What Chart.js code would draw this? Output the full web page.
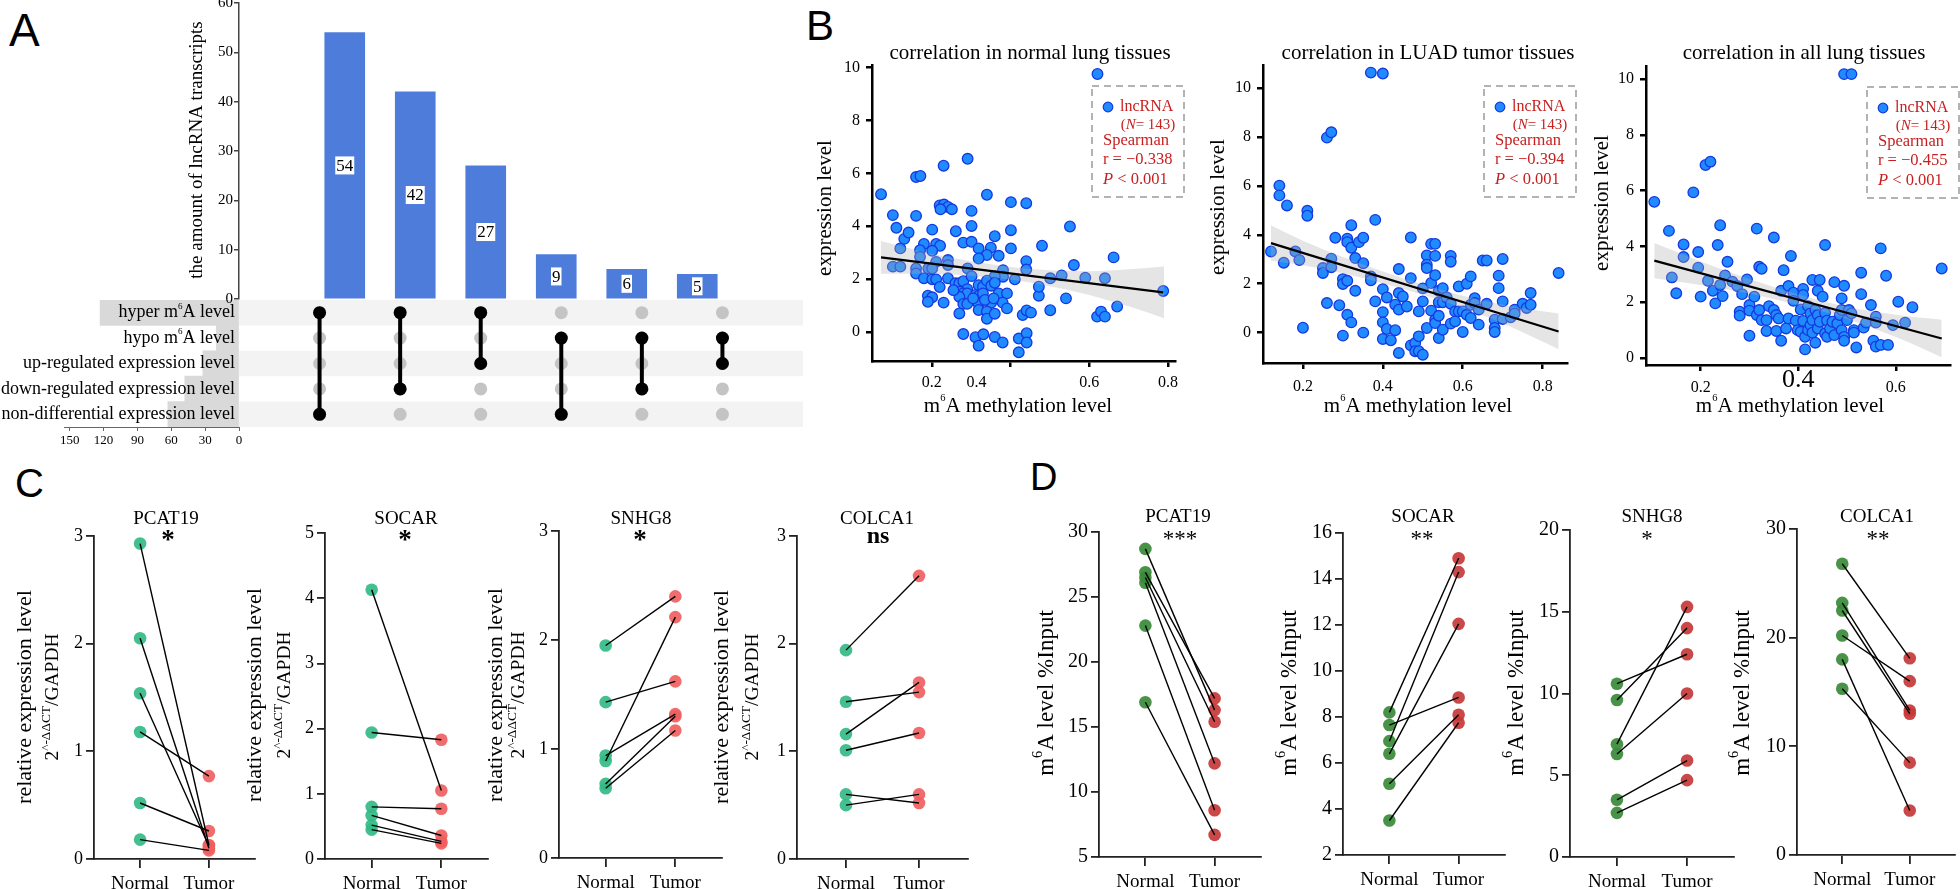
<!DOCTYPE html>
<html><head><meta charset="utf-8"><title>m6A lncRNA figure</title>
<script src="https://cdn.jsdelivr.net/npm/chart.js@4.4.1/dist/chart.umd.min.js"></script>
<style>
html,body{margin:0;padding:0;background:#fff;}
body{width:1960px;height:889px;overflow:hidden;position:relative;}
canvas{position:absolute;display:block;}
.pl{position:absolute;font-family:'Liberation Sans',Arial,sans-serif;line-height:1;color:#000;}
</style></head><body>
<div class="pl" style="left:9px;top:7px;font-size:46px">A</div>
<div class="pl" style="left:806px;top:5px;font-size:42px">B</div>
<div class="pl" style="left:15px;top:463px;font-size:40px">C</div>
<div class="pl" style="left:1030px;top:458px;font-size:38px">D</div>
<script>
// ================= DATA =================
// Panel A (UpSet)
const setNames = ['hyper m⁶A level','hypo m⁶A level','up-regulated expression level','down-regulated expression level','non-differential expression level'];
const setSizes = [123, 20, 32, 48, 63];
const setSizeTicks = [0, 30, 60, 90, 120, 150];
const intersectionSizes = [54, 42, 27, 9, 6, 5];
const intersectionSets = [[0,4],[0,3],[0,2],[1,4],[1,3],[1,2]];
const barTicks = [0, 10, 20, 30, 40, 50, 60];

// Panel B (scatter)
const normalX = [0.071,0.101,0.110,0.120,0.130,0.141,0.101,0.120,0.160,0.171,
0.160,0.230,0.291,0.340,0.220,0.231,0.241,0.251,0.222,0.301,
0.301,0.201,0.261,0.401,0.440,0.551,0.401,0.360,0.180,0.211,
0.221,0.201,0.280,0.301,0.319,0.350,0.340,0.370,0.401,0.480,
0.170,0.170,0.211,0.241,0.241,0.291,0.319,0.440,0.440,0.561,
0.662,0.160,0.160,0.191,0.201,0.180,0.201,0.211,0.241,0.220,
0.381,0.381,0.360,0.411,0.501,0.530,0.590,0.640,0.260,0.270,
0.280,0.301,0.319,0.330,0.340,0.351,0.360,0.290,0.270,0.280,
0.290,0.311,0.319,0.330,0.370,0.391,0.270,0.190,0.201,0.190,
0.230,0.280,0.290,0.319,0.351,0.380,0.472,0.472,0.541,0.319,
0.340,0.340,0.360,0.391,0.270,0.431,0.441,0.452,0.501,0.620,
0.630,0.640,0.671,0.280,0.311,0.331,0.319,0.360,0.380,0.421,
0.441,0.441,0.421,0.621,0.788,0.335,0.357,0.305,0.255];
const normalY = [5.21,4.42,3.94,3.16,3.52,3.76,2.47,2.47,5.86,5.90,
4.39,6.29,6.55,5.19,4.79,4.82,4.73,4.64,4.64,4.58,
4.01,3.87,3.81,4.91,4.87,3.99,3.85,3.62,3.33,3.33,
3.26,3.07,3.38,3.41,3.16,3.19,2.91,2.88,3.16,3.26,
3.09,2.84,2.65,2.72,2.53,2.40,2.78,2.68,2.36,2.53,
2.82,2.40,2.21,2.40,2.40,2.03,1.99,1.99,2.03,1.70,
2.34,2.09,2.11,1.99,2.03,2.14,2.05,2.03,1.84,1.84,
1.92,2.11,1.77,1.71,1.94,1.75,1.86,1.62,1.52,1.46,
1.46,1.40,1.36,1.46,1.46,1.46,1.33,1.37,1.31,1.14,
1.11,1.06,1.06,1.06,1.11,1.11,1.37,1.71,1.27,0.83,
0.77,0.50,0.69,0.89,0.70,0.64,0.81,0.73,0.82,0.58,
0.77,0.58,0.96,-0.08,-0.20,-0.09,-0.52,-0.19,-0.40,-0.25,
-0.05,-0.40,-0.77,9.76,1.55,1.21,1.27,1.27,1.58];
const normalBandX = [0.07,0.2,0.3,0.4,0.5,0.6,0.7,0.79];
const normalBandLo = [2.20,2.20,2.13,1.98,1.73,1.40,0.97,0.52];
const normalBandHi = [3.44,2.96,2.67,2.46,2.33,2.30,2.37,2.48];
const normalFitX = [0.071, 0.788];
const normalFitY = [2.82, 1.50];

const tumorX = [0.12,0.141,0.141,0.16,0.152,0.181,0.191,0.2,0.211,0.211,
0.26,0.271,0.37,0.40,0.25,0.25,0.26,0.271,0.271,0.281,
0.291,0.30,0.30,0.30,0.311,0.311,0.311,0.311,0.321,0.321,
0.321,0.331,0.331,0.34,0.351,0.351,0.351,0.37,0.37,0.381,
0.381,0.40,0.40,0.40,0.40,0.41,0.41,0.42,0.431,0.431,
0.44,0.44,0.44,0.44,0.45,0.46,0.47,0.47,0.47,0.481,
0.481,0.49,0.49,0.49,0.50,0.50,0.50,0.51,0.51,0.51,
0.51,0.521,0.521,0.521,0.531,0.531,0.531,0.531,0.531,0.54,
0.54,0.54,0.54,0.55,0.55,0.55,0.56,0.57,0.57,0.57,
0.57,0.581,0.581,0.59,0.59,0.60,0.60,0.61,0.61,0.62,
0.62,0.62,0.63,0.63,0.64,0.64,0.65,0.66,0.66,0.68,
0.68,0.68,0.69,0.69,0.70,0.70,0.70,0.72,0.73,0.73,
0.75,0.76,0.77,0.77,0.84];
const tumorY = [3.32,6.01,5.61,5.20,2.86,3.32,2.97,0.20,4.98,4.78,
7.97,8.19,10.63,10.59,2.64,2.44,1.21,3.02,2.67,3.88,
1.12,-0.12,2.19,1.99,3.84,3.70,2.12,0.73,4.39,3.47,
0.42,3.05,1.71,3.70,3.88,2.84,0.0,2.30,2.14,4.61,
1.28,1.78,0.84,0.42,-0.26,1.44,0.15,-0.31,1.14,0.10,
2.60,1.62,0.94,-0.83,1.48,1.07,3.89,2.23,-0.52,-0.42,
-0.76,0.87,-0.15,-0.76,1.81,1.28,-0.90,3.16,2.78,2.64,
0.19,3.63,2.03,0.90,3.63,3.14,2.35,0.53,0.39,1.71,
1.24,0.69,-0.22,1.82,1.24,0.12,1.44,3.14,2.90,1.18,
0.37,0.87,0.46,1.89,0.87,0.87,0.03,2.0,0.73,2.30,
1.14,0.60,1.41,1.21,0.94,0.33,2.95,2.95,1.18,0.53,
0.19,0.03,2.33,1.82,3.01,1.28,0.56,0.63,0.94,0.78,
1.18,1.01,1.62,1.14,2.44];
const tumorBandX = [0.12,0.2,0.3,0.4,0.5,0.6,0.7,0.84];
const tumorBandLo = [2.94,2.76,2.43,2.02,1.55,1.01,0.38,-0.68];
const tumorBandHi = [4.38,3.76,3.09,2.50,1.97,1.51,1.14,0.78];
const tumorFitX = [0.12, 0.84];
const tumorFitY = [3.66, 0.05];

const allX = [0.105,0.135,0.141,0.150,0.165,0.165,0.185,0.195,0.195,0.200,
0.210,0.220,0.215,0.225,0.230,0.235,0.240,0.240,0.245,0.250,
0.255,0.265,0.275,0.280,0.280,0.285,0.295,0.300,0.300,0.300,
0.310,0.315,0.315,0.320,0.320,0.325,0.325,0.335,0.335,0.340,
0.350,0.350,0.355,0.355,0.360,0.365,0.365,0.370,0.375,0.380,
0.380,0.385,0.390,0.390,0.395,0.399,0.405,0.405,0.410,0.410,
0.410,0.414,0.414,0.420,0.420,0.425,0.425,0.429,0.429,0.429,
0.435,0.435,0.440,0.440,0.440,0.444,0.444,0.450,0.455,0.455,
0.455,0.459,0.459,0.465,0.470,0.474,0.474,0.480,0.485,0.489,
0.489,0.489,0.494,0.494,0.494,0.494,0.509,0.500,0.504,0.509,
0.514,0.514,0.519,0.529,0.529,0.534,0.539,0.549,0.554,0.559,
0.559,0.559,0.569,0.569,0.580,0.584,0.594,0.605,0.619,0.634,
0.694];
const allY = [5.60,4.56,2.89,2.32,4.07,3.62,5.94,3.80,3.24,2.20,
6.92,7.04,2.77,2.41,1.96,4.05,4.76,2.62,2.22,2.96,
3.45,2.74,2.58,1.66,1.52,2.29,2.82,1.90,1.70,0.80,
2.20,4.64,1.54,1.72,3.27,3.20,1.36,1.36,0.97,1.86,
4.32,1.72,1.54,0.97,1.42,0.62,2.41,3.15,1.06,2.58,
1.42,3.66,2.34,2.05,1.34,1.00,1.74,0.94,2.48,2.26,
1.33,0.76,0.31,1.86,1.00,1.60,1.18,2.80,1.36,0.91,
1.72,0.55,2.41,1.54,1.06,2.80,1.30,2.20,4.05,1.62,
0.88,1.34,0.76,1.06,1.30,2.72,0.82,1.24,1.54,2.14,
1.72,1.00,2.59,0.76,0.62,10.18,10.18,1.36,1.72,1.60,
1.00,0.91,0.38,3.06,2.29,1.09,1.27,1.90,0.62,1.48,
1.27,0.41,3.93,0.47,2.95,0.47,1.18,2.02,1.27,1.82,
3.21];
const allBandX = [0.105,0.2,0.3,0.4,0.5,0.6,0.694];
const allBandLo = [2.86,2.62,2.31,1.90,1.40,0.75,0.03];
const allBandHi = [4.12,3.46,2.83,2.28,1.84,1.55,1.37];
const allFitX = [0.105, 0.694];
const allFitY = [3.49, 0.70];

const scatterTitles = ['correlation in normal lung tissues','correlation in LUAD tumor tissues','correlation in all lung tissues'];
const spearmanR = ['−0.338','−0.394','−0.455'];
const lncCount = 143;
const expYTicks = [0, 2, 4, 6, 8, 10];
const methXTicks = [0.2, 0.4, 0.6, 0.8];
const methXTicksAll = [0.2, 0.4, 0.6];
const methXLabels = ['0.2', '0.4', '0.6', '0.8'];
const methXLabelsAll = ['0.2', '0.4', '0.6'];

// Panels C & D (paired)
const groups = ['Normal', 'Tumor'];
const genes = ['PCAT19', 'SOCAR', 'SNHG8', 'COLCA1'];
const exprSig = ['*', '*', '*', 'ns'];
const m6aSig = ['***', '**', '*', '**'];
const pcat19ExprNormal = [2.93, 2.05, 1.54, 1.18, 0.52, 0.18];
const pcat19ExprTumor  = [0.13, 0.10, 0.12, 0.77, 0.26, 0.08];
const socarExprNormal  = [4.13, 1.94, 0.80, 0.67, 0.52, 0.45];
const socarExprTumor   = [1.05, 1.83, 0.77, 0.36, 0.27, 0.24];
const snhg8ExprNormal  = [1.95, 1.43, 0.89, 0.94, 0.68, 0.64];
const snhg8ExprTumor   = [2.40, 1.62, 2.21, 1.32, 1.30, 1.17];
const colca1ExprNormal = [1.94, 1.46, 1.16, 1.01, 0.60, 0.50];
const colca1ExprTumor  = [2.63, 1.55, 1.64, 1.17, 0.52, 0.60];
const pcat19M6aNormal = [28.7, 26.9, 26.5, 26.1, 22.8, 16.9];
const pcat19M6aTumor  = [16.3, 17.2, 15.4, 12.2, 8.6, 6.7];
const socarM6aNormal  = [8.2, 6.95, 6.4, 7.65, 5.1, 3.5];
const socarM6aTumor   = [14.9, 14.3, 12.05, 8.85, 8.1, 7.75];
const snhg8M6aNormal  = [10.6, 9.6, 6.9, 6.3, 3.5, 2.7];
const snhg8M6aTumor   = [12.4, 14.0, 15.3, 10.0, 5.9, 4.7];
const colca1M6aNormal = [26.8, 23.2, 22.5, 20.2, 18.0, 15.3];
const colca1M6aTumor  = [18.1, 13.3, 13.0, 16.0, 4.1, 8.5];
const exprTicks3 = [0, 1, 2, 3];
const exprTicks5 = [0, 1, 2, 3, 4, 5];
const pcat19M6aTicks = [5, 10, 15, 20, 25, 30];
const socarM6aTicks = [2, 4, 6, 8, 10, 12, 14, 16];
const snhg8M6aTicks = [0, 5, 10, 15, 20];
const colca1M6aTicks = [0, 10, 20, 30];

// ================= HELPERS =================
const SERIF = "'Liberation Serif','Times New Roman',serif";
Chart.defaults.font.family = SERIF;
Chart.defaults.color = '#000';
const PT_FILL = '#1f8bff', PT_BORDER = '#1638e0';
const RED_TXT = '#c81e1e';

function parseRich(s, supScale) {
  const out = [];
  s.split('⁶').forEach((seg, i) => {
    if (i > 0) out.push({t: '6', sup: true, scale: supScale || 0.5});
    if (seg) out.push({t: seg});
  });
  return out;
}
function drawRich(ctx, it, L, T) {
  const size = it.size || 18;
  const parts = typeof it.t === 'string' ? parseRich(it.t, it.supScale) : it.t;
  ctx.save();
  ctx.fillStyle = it.color || '#000';
  ctx.textBaseline = it.baseline || 'middle';
  ctx.textAlign = 'left';
  const fonts = parts.map(p => (p.i ? 'italic ' : '') + ((p.b || it.bold) ? 'bold ' : '') +
    (p.sup ? size * (p.scale || 0.62) : size).toFixed(1) + 'px ' + SERIF);
  const widths = parts.map((p, k) => { ctx.font = fonts[k]; return ctx.measureText(p.t).width; });
  const total = widths.reduce((a, b) => a + b, 0);
  ctx.translate(it.x - L, it.y - T);
  if (it.rot) ctx.rotate(it.rot * Math.PI / 180);
  let x = it.align === 'left' ? 0 : (it.align === 'right' ? -total : -total / 2);
  parts.forEach((p, k) => {
    ctx.font = fonts[k];
    ctx.fillText(p.t, x, p.sup ? -size * (p.rise || 0.36) : 0);
    x += widths[k];
  });
  ctx.restore();
}
let chartCount = 0;
function build(spec) {
  const [x0, y0, x1, y1] = spec.area, [l, t, r, b] = spec.m;
  const L = x0 - l, T = y0 - t, W = x1 - x0 + l + r, H = y1 - y0 + t + b;
  const cv = document.createElement('canvas');
  cv.width = W; cv.height = H;
  cv.style.left = L + 'px'; cv.style.top = T + 'px';
  cv.style.width = W + 'px'; cv.style.height = H + 'px';
  document.body.appendChild(cv);
  spec.scales.x.afterFit = s => { s.height = b; };
  spec.scales.y.afterFit = s => { s.width = l; };
  const plug = {
    id: 'custom' + (chartCount++),
    beforeDatasetsDraw(chart) { if (spec.under) spec.under(chart, chart.ctx, L, T); },
    afterDatasetsDraw(chart) { if (spec.over) spec.over(chart, chart.ctx, L, T); },
    afterDraw(chart) { (spec.texts || []).forEach(it => drawRich(chart.ctx, it, L, T)); }
  };
  return new Chart(cv, {
    type: spec.type,
    data: spec.data,
    options: Object.assign({
      responsive: false, animation: false, devicePixelRatio: 1,
      layout: {autoPadding: false, padding: {left: 0, top: t, right: r, bottom: 0}},
      plugins: {legend: {display: false}, tooltip: {enabled: false}},
      scales: spec.scales
    }, spec.options || {}),
    plugins: [plug]
  });
}
function linAxis(min, max, ticks, o) {
  o = o || {};
  const tk = {display: !o.hideLabels, font: o.font || {family: SERIF, size: o.fs || 16}, color: '#000', padding: (o.pad !== undefined ? o.pad : 4), maxRotation: 0, autoSkip: false};
  if (o.cb) tk.callback = o.cb;
  return {
    type: 'linear', min, max, reverse: !!o.reverse, display: o.display !== false,
    afterBuildTicks: s => { s.ticks = ticks.map(v => ({value: v})); },
    grid: {drawOnChartArea: false, drawTicks: true, tickLength: (o.tl !== undefined ? o.tl : 6), color: o.color || '#000', lineWidth: o.lw || 2},
    border: {display: true, color: o.color || '#000', width: o.lw || 2},
    ticks: tk
  };
}

// ================= PANEL A =================
build({
  area: [239, 300, 803, 427], m: [2, 2, 2, 2], type: 'scatter',
  data: {datasets: [
    {data: intersectionSizes.flatMap((_, k) => setNames.map((_, r) => ({x: k, y: r}))),
     pointRadius: 6.5, pointBackgroundColor: '#c4c4c4', pointBorderWidth: 0, order: 10, clip: false},
    ...intersectionSets.map((rows, k) => ({
      data: rows.map(r => ({x: k, y: r})), showLine: true, borderColor: '#000', borderWidth: 4,
      pointRadius: 6.5, pointBackgroundColor: '#000', pointBorderWidth: 0, order: 1, clip: false}))
  ]},
  scales: {x: {type: 'linear', min: -1, max: 6, display: false}, y: {type: 'linear', min: -0.5, max: 4.5, reverse: true, display: false}},
  under: (chart, ctx) => {
    const ys = chart.scales.y, ca = chart.chartArea;
    ctx.save(); ctx.fillStyle = '#f3f3f3';
    setNames.forEach((_, r) => {
      if (r % 2) return;
      const a = ys.getPixelForValue(r - 0.5), b2 = ys.getPixelForValue(r + 0.5);
      ctx.fillRect(ca.left, Math.min(a, b2), ca.right - ca.left, Math.abs(b2 - a));
    });
    ctx.restore();
  }
});
build({
  area: [64, 300, 239, 427], m: [64, 2, 4, 25], type: 'bar',
  data: {labels: setNames, datasets: [{data: setSizes, backgroundColor: '#d9d9d9', barPercentage: 1, categoryPercentage: 1}]},
  options: {indexAxis: 'y'},
  scales: {
    x: linAxis(0, 155, setSizeTicks, {reverse: true, fs: 13, lw: 1, color: '#666', tl: 4, pad: 2}),
    y: {type: 'category', display: false}
  },
  over: (chart, ctx, L, T) => {
    const ys = chart.scales.y;
    setNames.forEach((n, i) => drawRich(ctx, {x: 235, y: ys.getPixelForValue(i) + T, t: n, size: 18, align: 'right', supScale: 0.5}, L, T));
  }
});
build({
  area: [239, 3, 803, 299], m: [59, 13, 10, 12], type: 'bar',
  data: {datasets: [{data: intersectionSizes.map((v, i) => ({x: i, y: v})), backgroundColor: '#4e7cdb', barThickness: 40}]},
  scales: {
    x: {type: 'linear', min: -1, max: 6, display: false},
    y: linAxis(0, 60, barTicks, {fs: 15, lw: 1.5, color: '#444', tl: 5, pad: 1})
  },
  over: (chart, ctx) => {
    ctx.save();
    ctx.font = '17px ' + SERIF; ctx.textAlign = 'center'; ctx.textBaseline = 'middle';
    chart.getDatasetMeta(0).data.forEach((bar, i) => {
      const txt = String(intersectionSizes[i]);
      const w = ctx.measureText(txt).width, cy = (bar.y + bar.base) / 2;
      ctx.fillStyle = '#fff'; ctx.fillRect(bar.x - w / 2 - 1, cy - 9, w + 2, 18);
      ctx.fillStyle = '#000'; ctx.fillText(txt, bar.x, cy + 1);
    });
    ctx.restore();
  },
  texts: [{x: 197, y: 150, rot: -90, size: 19, t: 'the amount of lncRNA transcripts'}]
});

// ================= PANEL B =================
function drawLegend(ctx, ca, rTxt) {
  const bx = ca.right - 83, by = ca.top + 21, bw = 92, bh = 111;
  ctx.save();
  ctx.setLineDash([7, 5]); ctx.strokeStyle = '#b3b3b3'; ctx.lineWidth = 2;
  ctx.strokeRect(bx, by, bw, bh);
  ctx.setLineDash([]);
  ctx.beginPath(); ctx.arc(bx + 16, by + 21, 4.8, 0, Math.PI * 2);
  ctx.fillStyle = PT_FILL; ctx.fill(); ctx.strokeStyle = PT_BORDER; ctx.lineWidth = 1.2; ctx.stroke();
  ctx.restore();
  drawRich(ctx, {x: bx + 28, y: by + 21, t: 'lncRNA', size: 16, align: 'left', color: RED_TXT}, 0, 0);
  drawRich(ctx, {x: bx + 56, y: by + 39, t: [{t: '('}, {t: 'N', i: true}, {t: '= ' + lncCount + ')'}], size: 15, color: RED_TXT}, 0, 0);
  drawRich(ctx, {x: bx + 11, y: by + 55, t: 'Spearman', size: 16.5, align: 'left', color: RED_TXT}, 0, 0);
  drawRich(ctx, {x: bx + 11, y: by + 74, t: 'r = ' + rTxt, size: 16.5, align: 'left', color: RED_TXT}, 0, 0);
  drawRich(ctx, {x: bx + 11, y: by + 94, t: [{t: 'P', i: true}, {t: ' < 0.001'}], size: 16.5, align: 'left', color: RED_TXT}, 0, 0);
}
function scatterPanel(p) {
  const n = Math.min(p.xs.length, p.ys.length);
  build({
    area: p.area, m: p.m, type: 'scatter',
    data: {datasets: [
      {data: p.xs.slice(0, n).map((x, i) => ({x, y: p.ys[i]})), pointRadius: 5.3, pointBackgroundColor: PT_FILL,
       pointBorderColor: PT_BORDER, pointBorderWidth: 1.3, order: 3, clip: false},
      {type: 'line', data: p.bandX.map((x, i) => ({x, y: p.bandLo[i]})), borderWidth: 0, borderColor: 'rgba(0,0,0,0)',
       pointRadius: 0, fill: false, cubicInterpolationMode: 'monotone', order: 2},
      {type: 'line', data: p.bandX.map((x, i) => ({x, y: p.bandHi[i]})), borderWidth: 0, borderColor: 'rgba(0,0,0,0)',
       pointRadius: 0, fill: '-1', backgroundColor: 'rgba(175,175,175,0.32)', cubicInterpolationMode: 'monotone', order: 2},
      {type: 'line', data: p.fitX.map((x, i) => ({x, y: p.fitY[i]})), borderColor: '#000', borderWidth: 2.2,
       pointRadius: 0, fill: false, order: 1}
    ]},
    scales: {
      x: linAxis(p.xMin, p.xMax, p.xTicks, {lw: 2.5, tl: 6, hideLabels: true}),
      y: linAxis(p.yMin, p.yMax, expYTicks, {fs: 16, lw: 2.5, tl: 6, pad: 6})
    },
    over: (chart, ctx, L, T) => {
      drawLegend(ctx, chart.chartArea, p.r);
      const xs = chart.scales.x, ca = chart.chartArea;
      p.xLabels.forEach((lab, i) => {
        const big = p.bigIdx === i;
        drawRich(ctx, {x: xs.getPixelForValue(p.xTicks[i]) + (p.shift ? p.shift[i] : 0) + L,
          y: ca.bottom + (big ? p.bigBase : p.base) + T, t: lab, size: big ? 26 : 16, baseline: 'alphabetic'}, L, T);
      });
    },
    texts: [
      {x: p.titleX, y: 53, t: p.title, size: 21},
      {x: p.yTitleX, y: p.yTitleY, rot: -90, t: 'expression level', size: 21},
      {x: p.xTitleX, y: 406, t: 'm⁶A methylation level', size: 21, supScale: 0.5}
    ]
  });
}
scatterPanel({area: [872, 65, 1175, 361], m: [62, 28, 12, 58], xs: normalX, ys: normalY,
  bandX: normalBandX, bandLo: normalBandLo, bandHi: normalBandHi, fitX: normalFitX, fitY: normalFitY,
  xMin: 0.048, xMax: 0.818, yMin: -1.1, yMax: 10.1, xTicks: methXTicks, xLabels: methXLabels, r: spearmanR[0],
  shift: [0, -34, 0, 0], base: 26,
  title: scatterTitles[0], titleX: 1030, yTitleX: 825, yTitleY: 208, xTitleX: 1018});
scatterPanel({area: [1263, 65, 1567, 363], m: [60, 28, 12, 58], xs: tumorX, ys: tumorY,
  bandX: tumorBandX, bandLo: tumorBandLo, bandHi: tumorBandHi, fitX: tumorFitX, fitY: tumorFitY,
  xMin: 0.1, xMax: 0.861, yMin: -1.24, yMax: 10.94, xTicks: methXTicks, xLabels: methXLabels, r: spearmanR[1],
  base: 28,
  title: scatterTitles[1], titleX: 1428, yTitleX: 1218, yTitleY: 207, xTitleX: 1418});
scatterPanel({area: [1646, 66, 1950, 365], m: [58, 29, 10, 56], xs: allX, ys: allY,
  bandX: allBandX, bandLo: allBandLo, bandHi: allBandHi, fitX: allFitX, fitY: allFitY,
  xMin: 0.088, xMax: 0.711, yMin: -0.25, yMax: 10.47, xTicks: methXTicksAll, xLabels: methXLabelsAll, r: spearmanR[2],
  base: 27, bigIdx: 1, bigBase: 22,
  title: scatterTitles[2], titleX: 1804, yTitleX: 1602, yTitleY: 203, xTitleX: 1790});

// ================= PANELS C & D =================
function pairPanel(p) {
  const ds = p.normal.map((v, i) => ({data: [{x: 0, y: v}, {x: 1, y: p.tumor[i]}], showLine: true,
    borderColor: '#000', borderWidth: 1.4, pointRadius: 0, order: 1, clip: false}));
  ds.push({data: p.normal.map(v => ({x: 0, y: v})), pointRadius: 6.3, pointBackgroundColor: p.cN, pointBorderWidth: 0, order: 5, clip: false});
  ds.push({data: p.tumor.map(v => ({x: 1, y: v})), pointRadius: 6.3, pointBackgroundColor: p.cT, pointBorderWidth: 0, order: 5, clip: false});
  build({
    area: p.area, m: [p.l, 42, p.r || 10, 40], type: 'scatter',
    data: {datasets: ds},
    scales: {
      x: linAxis(-0.67, 1.67, [0, 1], {cb: (v, i) => groups[i], fs: 19, lw: 1.8, color: '#222', tl: 9, pad: 5}),
      y: linAxis(p.yMin, p.yMax, p.ticks, {fs: p.tfs, lw: 1.8, color: '#222', tl: 8, pad: 3})
    },
    texts: p.texts
  });
}
const exprYTitle2 = [{t: '2'}, {t: '^-ΔΔCT', sup: true, scale: 0.68, rise: 0.32}, {t: '/GAPDH'}];
const m6aYTitle = [{t: 'm'}, {t: '6', sup: true, scale: 0.62}, {t: 'A level %Input'}];
const CG = 'rgba(52,186,134,0.92)', CR = 'rgba(240,96,96,0.92)';
const DG = 'rgba(58,138,58,0.92)', DR = 'rgba(198,56,56,0.92)';
function cTexts(title, tx, sx, y1, y2, yc, sig) {
  const sigItem = sig === 'ns' ? {x: sx, y: 537, t: sig, size: 24, bold: true} : {x: sx, y: 541, t: sig, size: 27, bold: true};
  return [
    {x: tx, y: 519, t: title, size: 19},
    sigItem,
    {x: y1, y: yc, rot: -90, t: 'relative expression level', size: 22},
    {x: y2, y: yc, rot: -90, t: exprYTitle2, size: 19.5}
  ];
}
function dTexts(title, tx, sx, yx, sig) {
  return [
    {x: tx, y: 517, t: title, size: 19},
    {x: sx, y: 540, t: sig, size: 23},
    {x: yx, y: 693, rot: -90, t: m6aYTitle, size: 23}
  ];
}

pairPanel({area: [94, 536, 255, 859], l: 84, normal: pcat19ExprNormal, tumor: pcat19ExprTumor, yMin: 0, yMax: 3, ticks: exprTicks3, tfs: 18, cN: CG, cT: CR,
  texts: cTexts(genes[0], 166, 168, 25, 53, 697, exprSig[0])});
pairPanel({area: [325, 533, 488, 859], l: 82, normal: socarExprNormal, tumor: socarExprTumor, yMin: 0, yMax: 5, ticks: exprTicks5, tfs: 18, cN: CG, cT: CR,
  texts: cTexts(genes[1], 406, 405, 255, 285, 695, exprSig[1])});
pairPanel({area: [559, 531, 722, 858], l: 75, normal: snhg8ExprNormal, tumor: snhg8ExprTumor, yMin: 0, yMax: 3, ticks: exprTicks3, tfs: 18, cN: CG, cT: CR,
  texts: cTexts(genes[2], 641, 640, 496, 519, 695, exprSig[2])});
pairPanel({area: [797, 536, 968, 859], l: 87, normal: colca1ExprNormal, tumor: colca1ExprTumor, yMin: 0, yMax: 3, ticks: exprTicks3, tfs: 18, cN: CG, cT: CR,
  texts: cTexts(genes[3], 877, 878, 722, 753, 697, exprSig[3])});

pairPanel({area: [1099, 532, 1261, 857], l: 80, normal: pcat19M6aNormal, tumor: pcat19M6aTumor, yMin: 5, yMax: 30, ticks: pcat19M6aTicks, tfs: 20, cN: DG, cT: DR,
  texts: dTexts(genes[0], 1178, 1180, 1047, m6aSig[0])});
pairPanel({area: [1343, 533, 1505, 855], l: 80, normal: socarM6aNormal, tumor: socarM6aTumor, yMin: 2, yMax: 16, ticks: socarM6aTicks, tfs: 20, cN: DG, cT: DR,
  texts: dTexts(genes[1], 1423, 1422, 1290, m6aSig[1])});
pairPanel({area: [1570, 530, 1734, 857], l: 76, normal: snhg8M6aNormal, tumor: snhg8M6aTumor, yMin: 0, yMax: 20, ticks: snhg8M6aTicks, tfs: 20, cN: DG, cT: DR,
  texts: dTexts(genes[2], 1652, 1647, 1517, m6aSig[2])});
pairPanel({area: [1797, 529, 1955, 855], l: 76, r: 5, normal: colca1M6aNormal, tumor: colca1M6aTumor, yMin: 0, yMax: 30, ticks: colca1M6aTicks, tfs: 20, cN: DG, cT: DR,
  texts: dTexts(genes[3], 1877, 1878, 1743, m6aSig[3])});
</script>
</body></html>
